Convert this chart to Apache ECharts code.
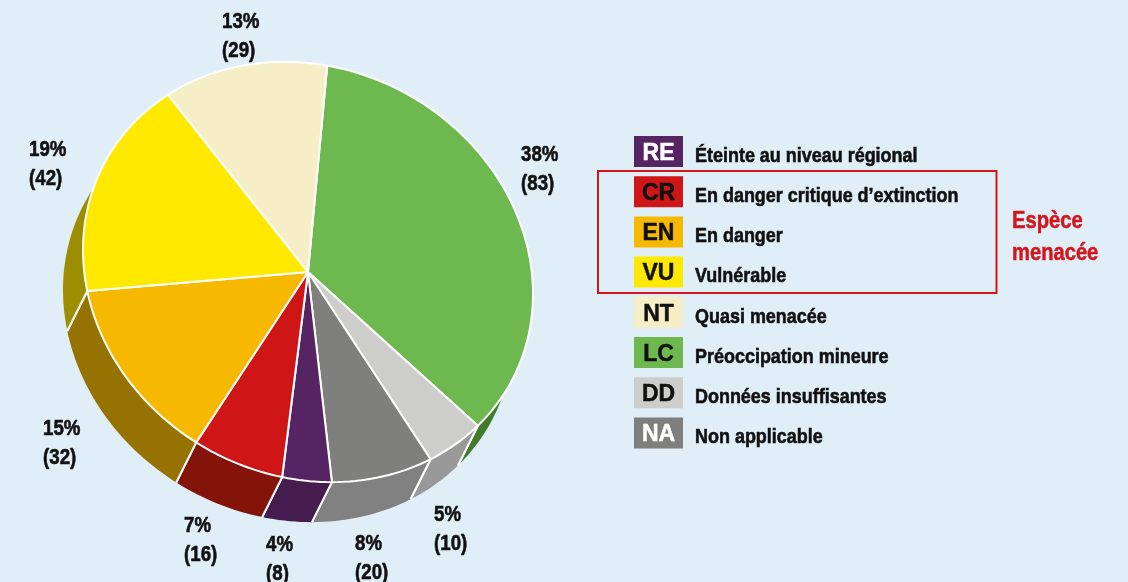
<!DOCTYPE html>
<html>
<head>
<meta charset="utf-8">
<title>Liste rouge</title>
<style>
  html, body { margin: 0; padding: 0; background: #e0eef8; }
  #main { width: 1128px; height: 582px; }
</style>
<script src="https://cdn.jsdelivr.net/npm/echarts@6/dist/echarts.min.js"></script>
</head>
<body>
<div id="main"></div>
<script>
// slices, clockwise from LC
const sliceCodes = ['LC', 'DD', 'NA', 'RE', 'CR', 'EN', 'VU', 'NT'];
const sliceCounts = [83, 10, 20, 8, 16, 32, 42, 29];
const pctLabels = ['38%', '5%', '8%', '4%', '7%', '15%', '19%', '13%'];
// drawn size of each slice, in degrees
const sliceDegrees = [126.1, 16, 26.9, 12.7, 23.2, 49, 62.7, 43.4];

const legendCodes = ['RE', 'CR', 'EN', 'VU', 'NT', 'LC', 'DD', 'NA'];
const legendNames = [
  'Éteinte au niveau régional',
  'En danger critique d’extinction',
  'En danger',
  'Vulnérable',
  'Quasi menacée',
  'Préoccipation mineure',
  'Données insuffisantes',
  'Non applicable'
];

const topColor = { LC: '#6eb850', DD: '#cdcecc', NA: '#7f807e', RE: '#562462', CR: '#cf1616', EN: '#f6b900', VU: '#ffe900', NT: '#f6eec6' };
const wallColor = { LC: '#427a2e', DD: '#989998', NA: '#808180', RE: '#461b4d', CR: '#841409', EN: '#967200', VU: '#9c8e00', NT: '#9a9678' };
const codeColor = { RE: '#fff', CR: '#111', EN: '#111', VU: '#111', NT: '#111', LC: '#111', DD: '#111', NA: '#fff' };

const boldFont = '"Liberation Sans", sans-serif';
const RED = '#d2161c';
const squeeze = 0.85; // no condensed face installed, so the text is narrowed

// pie geometry: a tilted ellipse with a depth pushed to the lower left
const cx = 308, cy = 272;
const ax = 225, ay = 22, bz = 209;
const depthX = -20, depthY = 40;
const firstAngle = 4.9;

const sliceRanges = [];
let running = firstAngle;
sliceDegrees.forEach(function (s) {
  const next = running + s;
  sliceRanges.push([running, next]);
  running = next;
});

function pointAt(deg, dx, dy) {
  const a = deg * Math.PI / 180;
  const u = Math.sin(a), v = Math.cos(a);
  return [cx + dx + ax * u, cy + dy + ay * u - bz * v];
}

function arcPoints(range, dx, dy) {
  const pts = [];
  const n = Math.ceil((range[1] - range[0]) / 1.5);
  for (let i = 0; i <= n; i++) {
    pts.push(pointAt(range[0] + (range[1] - range[0]) * i / n, dx, dy));
  }
  return pts;
}

const myChart = echarts.init(document.getElementById('main'));

// text next to the pie
const labelSpots = [[521, 155], [434, 515], [355, 544], [266, 545], [184, 526], [43, 429], [29, 150], [222, 22]];
const labelGap = 29;
const graphics = [];
labelSpots.forEach(function (p, i) {
  [pctLabels[i], '(' + sliceCounts[i] + ')'].forEach(function (t, k) {
    graphics.push({
      type: 'text', x: p[0], y: p[1] + k * labelGap, z: 20, scaleX: squeeze,
      style: { text: t, fill: '#111', stroke: '#111', lineWidth: 0.6, font: 'bold 22px ' + boldFont, textVerticalAlign: 'middle' }
    });
  });
});

// legend
const legendTop = 136, legendStep = 40.2;
legendCodes.forEach(function (code, i) {
  const y = legendTop + i * legendStep;
  graphics.push({
    type: 'rect', z: 20,
    shape: { x: 634, y: y, width: 49, height: 31 },
    style: { fill: topColor[code] }
  });
  graphics.push({
    type: 'text', x: 658.5, y: y + 17.5, z: 21,
    style: { text: code, fill: codeColor[code], stroke: codeColor[code], lineWidth: 0.5, font: 'bold 23px ' + boldFont, textAlign: 'center', textVerticalAlign: 'middle' }
  });
  graphics.push({
    type: 'text', x: 695, y: y + 20, z: 21, scaleX: 0.855,
    style: { text: legendNames[i], fill: '#111', stroke: '#111', lineWidth: 0.6, font: 'bold 21px ' + boldFont, textVerticalAlign: 'middle' }
  });
});
graphics.push({
  type: 'rect', z: 20,
  shape: { x: 598, y: 171, width: 398.5, height: 122 },
  style: { fill: 'none', stroke: RED, lineWidth: 2 }
});
['Espèce', 'menacée'].forEach(function (t, i) {
  graphics.push({
    type: 'text', x: 1012, y: 221 + i * 32, z: 21, scaleX: 0.84,
    style: { text: t, fill: RED, stroke: RED, lineWidth: 0.5, font: 'bold 24px ' + boldFont, textVerticalAlign: 'middle' }
  });
});

const sliceData = sliceCodes.map(function (c, i) { return [i, sliceDegrees[i]]; });

const option = {
  backgroundColor: '#e0eef8',
  animation: false,
  graphic: graphics,
  series: [
    {
      // side walls
      type: 'custom',
      coordinateSystem: 'none',
      silent: true,
      z: 2,
      data: sliceData,
      renderItem: function (params, api) {
        const i = api.value(0);
        const range = sliceRanges[i];
        const outer = arcPoints(range, 0, 0);
        const lower = arcPoints(range, depthX, depthY).reverse();
        const a = pointAt(range[0], 0, 0), a2 = pointAt(range[0], depthX, depthY);
        const b = pointAt(range[1], 0, 0), b2 = pointAt(range[1], depthX, depthY);
        return {
          type: 'group',
          children: [
            { type: 'polygon', shape: { points: outer.concat(lower) }, style: { fill: wallColor[sliceCodes[i]] } },
            { type: 'line', shape: { x1: a[0], y1: a[1], x2: a2[0], y2: a2[1] }, style: { stroke: '#fff', lineWidth: 2 } },
            { type: 'line', shape: { x1: b[0], y1: b[1], x2: b2[0], y2: b2[1] }, style: { stroke: '#fff', lineWidth: 2 } }
          ]
        };
      }
    },
    {
      // top face
      type: 'custom',
      coordinateSystem: 'none',
      silent: true,
      z: 3,
      data: sliceData,
      renderItem: function (params, api) {
        const i = api.value(0);
        return {
          type: 'polygon',
          shape: { points: [[cx, cy]].concat(arcPoints(sliceRanges[i], 0, 0)) },
          style: { fill: topColor[sliceCodes[i]], stroke: '#fff', lineWidth: 2, lineJoin: 'round' }
        };
      }
    }
  ]
};
myChart.setOption(option);
</script>
</body>
</html>
